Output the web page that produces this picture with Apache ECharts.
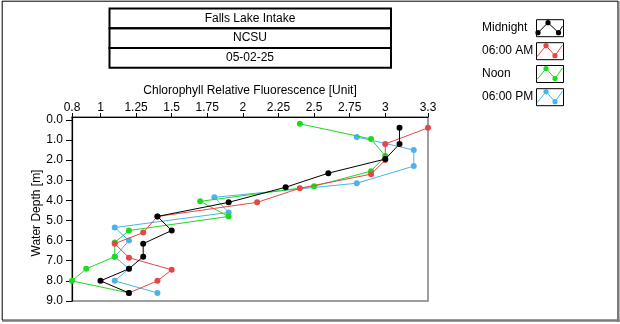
<!DOCTYPE html>
<html>
<head>
<meta charset="utf-8">
<script src="https://cdn.jsdelivr.net/npm/echarts@6/dist/echarts.min.js"></script>
<style>
html,body{margin:0;padding:0;background:#fff;}
#chart{width:620px;height:324px;}
</style>
</head>
<body>
<div id="chart"></div>
<script>
// ---- DATA ----
var titleLines = ['Falls Lake Intake', 'NCSU', '05-02-25'];
var seriesNames = ['Midnight', '06:00 AM', 'Noon', '06:00 PM'];
var seriesColors = ['#000000', '#e24848', '#1fd81f', '#4ab4ea'];

var midnightX = [3.1, 3.1, 3.0, 2.6, 2.3, 1.9, 1.4, 1.5, 1.3, 1.3, 1.2, 1.0, 1.2];
var midnightDepth = [0.4, 1.2, 1.95, 2.65, 3.35, 4.1, 4.8, 5.5, 6.15, 6.8, 7.4, 8.0, 8.6];

var amX = [3.3, 3.0, 3.0, 2.9, 2.4, 2.1, 1.4, 1.3, 1.1, 1.2, 1.5, 1.4, 1.2];
var amDepth = [0.4, 1.2, 2.0, 2.7, 3.4, 4.1, 4.8, 5.6, 6.15, 6.85, 7.45, 8.0, 8.6];

var noonX = [2.4, 2.9, 3.0, 2.9, 2.5, 1.7, 1.9, 1.2, 1.1, 1.1, 0.9, 0.8, 1.2];
var noonDepth = [0.2, 0.95, 1.8, 2.55, 3.3, 4.05, 4.8, 5.5, 6.1, 6.8, 7.4, 8.0, 8.6];

var pmX = [2.8, 3.2, 3.2, 2.8, 1.8, 1.9, 1.1, 1.2, 1.1, 1.2, 1.1, 1.4];
var pmDepth = [0.85, 1.5, 2.3, 3.15, 3.85, 4.6, 5.35, 6.0, 6.8, 7.4, 8.0, 8.6];

var xTicks = [0.8, 1, 1.25, 1.5, 1.75, 2, 2.25, 2.5, 2.75, 3, 3.3];
var yTicks = [0, 1, 2, 3, 4, 5, 6, 7, 8, 9];
var xAxisTitle = 'Chlorophyll Relative Fluorescence [Unit]';
var yAxisTitle = 'Water Depth [m]';

// ---- BUILD ----
function pairs(xs, ys) { return xs.map(function (v, i) { return [v, ys[i]]; }); }
var seriesData = [pairs(midnightX, midnightDepth), pairs(amX, amDepth), pairs(noonX, noonDepth), pairs(pmX, pmDepth)];
var zOrder = [6, 5, 4, 3];
var FONT = 'Liberation Sans';

var chart = echarts.init(document.getElementById('chart'), null, {renderer: 'canvas'});

var graphics = [];
// outer frame
graphics.push({type: 'rect', shape: {x: 617, y: 1, width: 2.5, height: 321}, style: {fill: '#7a7a7a'}, silent: true});
graphics.push({type: 'rect', shape: {x: 2, y: 319.3, width: 617.5, height: 2.4}, style: {fill: '#7a7a7a'}, silent: true});
graphics.push({type: 'line', shape: {x1: 2, y1: 1.2, x2: 618, y2: 1.2}, style: {stroke: '#000', lineWidth: 1}, silent: true});
graphics.push({type: 'line', shape: {x1: 2.2, y1: 1, x2: 2.2, y2: 320}, style: {stroke: '#000', lineWidth: 1}, silent: true});

// title boxes
var boxTops = [8.5, 28.3, 48];
titleLines.forEach(function (t, i) {
  var h = (i < 2 ? boxTops[i + 1] : 67.7) - boxTops[i];
  graphics.push({type: 'rect', shape: {x: 109.5, y: boxTops[i], width: 281.5, height: h},
    style: {fill: 'none', stroke: '#000', lineWidth: 2}, silent: true});
  graphics.push({type: 'text', x: 250, y: boxTops[i] + h / 2,
    style: {text: t, font: '12px "' + FONT + '"', fill: '#000', align: 'center', verticalAlign: 'middle'}, silent: true});
});

// y axis title (rotated)
graphics.push({type: 'text', x: 37, y: 213, rotation: Math.PI / 2,
  style: {text: yAxisTitle, font: '12px "' + FONT + '"', fill: '#000', align: 'center', verticalAlign: 'middle'}, silent: true});

// legend
var legY = [27.7, 50.7, 73.5, 96.7];
var iconPts = [
  [[2, 13.5], [12, 3.5], [22.5, 13.5], [26.5, 7]],
  [[1, 14.5], [10, 3.5], [19, 13.5], [26.5, 3]],
  [[1, 14.5], [10, 3.5], [19, 13.5], [26.5, 3]],
  [[1, 14.5], [10, 3.5], [19, 13.5], [26.5, 3]]
];
var dotIdx = [[0, 1, 2], [1, 2], [1, 2], [1, 2]];
seriesNames.forEach(function (n, i) {
  graphics.push({type: 'text', x: 482, y: legY[i],
    style: {text: n, font: '12px "' + FONT + '"', fill: '#000', align: 'left', verticalAlign: 'middle'}, silent: true});
  var bx = 536, by = legY[i] - 8.5;
  graphics.push({type: 'rect', shape: {x: bx + 0.5, y: by + 0.5, width: 27, height: 17},
    style: {fill: '#fff', stroke: '#000', lineWidth: 1}, silent: true});
  var pts = iconPts[i].map(function (p) { return [bx + p[0], by + p[1]]; });
  graphics.push({type: 'polyline', shape: {points: pts}, style: {stroke: seriesColors[i], lineWidth: 1, fill: null}, silent: true});
  dotIdx[i].forEach(function (k) {
    graphics.push({type: 'circle', shape: {cx: pts[k][0], cy: pts[k][1], r: 2.6}, style: {fill: seriesColors[i]}, silent: true});
  });
});

var option = {
  animation: false,
  backgroundColor: '#ffffff',
  textStyle: {fontFamily: FONT},
  grid: {left: 72, top: 117, right: 192, bottom: 23, show: true, borderColor: '#808080', borderWidth: 1.5, backgroundColor: '#ffffff'},
  xAxis: {
    type: 'value', position: 'top', min: 0.8, max: 3.3,
    name: xAxisTitle, nameLocation: 'middle', nameGap: 20,
    nameTextStyle: {color: '#000', fontSize: 12, fontFamily: FONT},
    axisLine: {show: true, onZero: false, lineStyle: {color: '#000', width: 1.2}},
    axisTick: {show: true, length: 4, customValues: xTicks, lineStyle: {color: '#000'}},
    axisLabel: {customValues: xTicks, color: '#000', fontSize: 12, margin: 3, fontFamily: FONT,
      formatter: function (v) { return String(Math.round(v * 100) / 100); }},
    splitLine: {show: false}
  },
  yAxis: {
    type: 'value', inverse: true, min: -0.14, max: 9,
    axisLine: {show: true, onZero: false, lineStyle: {color: '#000', width: 1.2}},
    axisTick: {show: true, length: 6, customValues: yTicks, lineStyle: {color: '#000'}},
    axisLabel: {customValues: yTicks, color: '#000', fontSize: 12, margin: 9, fontFamily: FONT,
      formatter: function (v) { return (Math.round(v * 10) / 10).toFixed(1); }},
    splitLine: {show: false}
  },
  series: seriesNames.map(function (n, i) {
    return {
      name: n, type: 'line', data: seriesData[i], z: zOrder[i],
      symbol: 'circle', symbolSize: 6, showSymbol: true,
      lineStyle: {color: seriesColors[i], width: 1},
      itemStyle: {color: seriesColors[i]},
      clip: false
    };
  }),
  graphic: graphics
};
chart.setOption(option);
</script>
</body>
</html>
